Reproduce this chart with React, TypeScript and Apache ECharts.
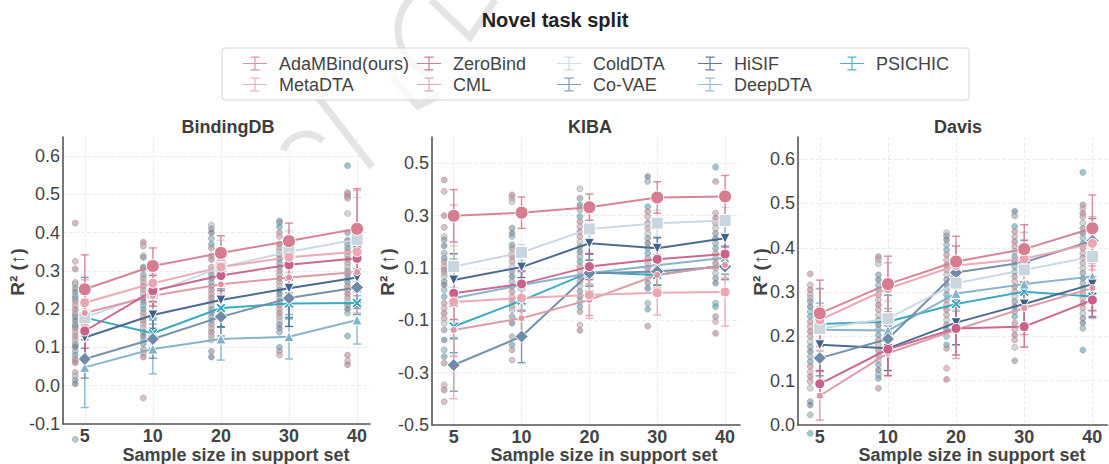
import React, { useEffect, useRef } from 'react';
import * as echarts from 'echarts';

const categories = ['5', '10', '20', '30', '40'];
const methods = ['AdaMBind(ours)', 'MetaDTA', 'ZeroBind', 'CML', 'ColdDTA', 'Co-VAE', 'HiSIF', 'DeepDTA', 'PSICHIC'];
const panelTitles = ['BindingDB', 'KIBA', 'Davis'];

// mean R² per method (rows follow `methods`), columns follow `categories`
const bindingdbMeans = [
  [0.252, 0.313, 0.347, 0.378, 0.410],
  [0.217, 0.268, 0.310, 0.336, 0.350],
  [0.143, 0.248, 0.288, 0.316, 0.333],
  [0.190, 0.235, 0.265, 0.283, 0.297],
  [0.178, 0.242, 0.310, 0.350, 0.382],
  [0.070, 0.122, 0.180, 0.229, 0.257],
  [0.126, 0.185, 0.224, 0.255, 0.283],
  [0.048, 0.096, 0.122, 0.128, 0.172],
  [0.178, 0.137, 0.203, 0.215, 0.216],
];
const bindingdbErrs = [
  [0.090, 0.047, 0.045, 0.047, 0.105],
  [0.060, 0.050, 0.050, 0.050, 0.160],
  [0.045, 0.040, 0.040, 0.040, 0.040],
  [0.050, 0.040, 0.040, 0.040, 0.050],
  [0.050, 0.050, 0.070, 0.055, 0.110],
  [0.050, 0.050, 0.050, 0.050, 0.040],
  [0.050, 0.035, 0.070, 0.100, 0.080],
  [0.105, 0.065, 0.055, 0.058, 0.063],
  [0.105, 0.040, 0.050, 0.040, 0.030],
];
const kibaMeans = [
  [0.299, 0.311, 0.332, 0.369, 0.373],
  [-0.030, -0.015, -0.003, 0.005, 0.008],
  [0.003, 0.039, 0.105, 0.133, 0.153],
  [-0.137, -0.092, -0.022, 0.073, 0.111],
  [0.105, 0.159, 0.249, 0.271, 0.281],
  [-0.271, -0.162, 0.080, 0.086, 0.105],
  [0.054, 0.103, 0.194, 0.175, 0.213],
  [-0.016, 0.035, 0.080, 0.110, 0.139],
  [-0.124, -0.025, 0.083, 0.073, 0.111],
];
const kibaErrs = [
  [0.100, 0.060, 0.050, 0.060, 0.080],
  [0.370, 0.050, 0.090, 0.085, 0.130],
  [0.100, 0.050, 0.050, 0.050, 0.030],
  [0.100, 0.070, 0.060, 0.050, 0.050],
  [0.080, 0.030, 0.060, 0.050, 0.050],
  [0.100, 0.100, 0.050, 0.050, 0.050],
  [0.100, 0.040, 0.040, 0.040, 0.050],
  [0.150, 0.050, 0.050, 0.040, 0.040],
  [0.100, 0.040, 0.070, 0.040, 0.035],
];
const davisMeans = [
  [0.252, 0.318, 0.369, 0.397, 0.444],
  [0.237, 0.308, 0.360, 0.375, 0.410],
  [0.093, 0.171, 0.218, 0.222, 0.282],
  [0.066, 0.162, 0.215, 0.264, 0.309],
  [0.218, 0.240, 0.320, 0.350, 0.380],
  [0.151, 0.194, 0.344, 0.367, 0.416],
  [0.181, 0.173, 0.231, 0.273, 0.318],
  [0.215, 0.213, 0.297, 0.318, 0.335],
  [0.228, 0.233, 0.273, 0.301, 0.290],
];
const davisErrs = [
  [0.075, 0.063, 0.057, 0.055, 0.075],
  [0.070, 0.058, 0.045, 0.060, 0.060],
  [0.030, 0.060, 0.060, 0.046, 0.040],
  [0.055, 0.050, 0.065, 0.060, 0.050],
  [0.050, 0.040, 0.060, 0.050, 0.050],
  [0.040, 0.030, 0.060, 0.050, 0.050],
  [0.060, 0.050, 0.050, 0.050, 0.060],
  [0.060, 0.050, 0.040, 0.050, 0.050],
  [0.080, 0.060, 0.050, 0.040, 0.045],
];

// individual run values (grey dots), one list per category
const bindingdbRuns = [
  [0.425, 0.325, 0.305, 0.27, 0.265, 0.255, 0.245, 0.235, 0.228, 0.22, 0.21, 0.2, 0.19, 0.185, 0.18, 0.17, 0.16, 0.155, 0.15, 0.14, 0.13, 0.12, 0.11, 0.105, 0.1, 0.09, 0.08, 0.07, 0.065, 0.06, 0.035, 0.025, 0.015, 0.005, -0.14],
  [0.375, 0.365, 0.34, 0.335, 0.31, 0.305, 0.29, 0.28, 0.27, 0.26, 0.25, 0.24, 0.23, 0.22, 0.21, 0.2, 0.19, 0.18, 0.17, 0.16, 0.15, 0.14, 0.13, 0.12, 0.11, 0.095, 0.085, 0.075, -0.032],
  [0.42, 0.41, 0.4, 0.385, 0.37, 0.36, 0.34, 0.33, 0.31, 0.3, 0.29, 0.28, 0.27, 0.26, 0.25, 0.24, 0.23, 0.22, 0.21, 0.2, 0.19, 0.18, 0.17, 0.16, 0.15, 0.14, 0.13, 0.12, 0.09, 0.075],
  [0.43, 0.425, 0.415, 0.4, 0.39, 0.37, 0.36, 0.35, 0.34, 0.33, 0.32, 0.31, 0.3, 0.29, 0.28, 0.27, 0.26, 0.25, 0.24, 0.23, 0.22, 0.21, 0.2, 0.19, 0.18, 0.17, 0.16, 0.15, 0.14, 0.1, 0.09, 0.08],
  [0.575, 0.505, 0.5, 0.495, 0.49, 0.45, 0.4, 0.38, 0.37, 0.36, 0.35, 0.34, 0.33, 0.32, 0.31, 0.3, 0.29, 0.28, 0.27, 0.26, 0.25, 0.24, 0.23, 0.22, 0.21, 0.2, 0.19, 0.13, 0.08, 0.065, 0.055],
];
const kibaRuns = [
  [0.436, 0.392, 0.3, 0.255, 0.22, 0.207, 0.184, 0.156, 0.137, 0.124, 0.105, 0.092, 0.08, 0.067, 0.048, 0.035, 0.016, -0.01, -0.035, -0.054, -0.073, -0.092, -0.111, -0.137, -0.175, -0.213, -0.239, -0.264, -0.347, -0.366, -0.411],
  [0.379, 0.366, 0.353, 0.252, 0.232, 0.22, 0.188, 0.175, 0.156, 0.143, 0.124, 0.105, 0.086, 0.067, 0.048, 0.029, 0.01, -0.01, -0.029, -0.048, -0.061, -0.086, -0.111, -0.162, -0.194, -0.213, -0.252],
  [0.402, 0.366, 0.34, 0.322, 0.296, 0.277, 0.258, 0.239, 0.22, 0.2, 0.181, 0.162, 0.143, 0.124, 0.105, 0.086, 0.067, 0.048, 0.029, 0.01, -0.01, -0.029, -0.048, -0.067, -0.118, -0.139],
  [0.449, 0.43, 0.334, 0.315, 0.296, 0.271, 0.252, 0.232, 0.213, 0.194, 0.175, 0.156, 0.137, 0.118, 0.099, 0.08, 0.061, 0.042, 0.022, -0.035, -0.058, -0.122],
  [0.485, 0.43, 0.309, 0.29, 0.271, 0.252, 0.232, 0.213, 0.194, 0.175, 0.156, 0.137, 0.118, 0.099, 0.08, 0.061, 0.042, -0.035, -0.048, -0.086, -0.105, -0.15],
];
const davisRuns = [
  [0.341, 0.316, 0.305, 0.294, 0.286, 0.279, 0.267, 0.256, 0.245, 0.233, 0.222, 0.211, 0.2, 0.188, 0.177, 0.166, 0.154, 0.143, 0.132, 0.12, 0.109, 0.098, 0.083, 0.053, 0.045, 0.023, -0.019],
  [0.38, 0.373, 0.364, 0.339, 0.328, 0.316, 0.305, 0.294, 0.282, 0.271, 0.26, 0.248, 0.237, 0.226, 0.215, 0.203, 0.192, 0.181, 0.169, 0.158, 0.147, 0.136, 0.124, 0.113, 0.105, 0.083],
  [0.434, 0.427, 0.418, 0.407, 0.395, 0.384, 0.373, 0.361, 0.35, 0.339, 0.328, 0.316, 0.305, 0.294, 0.282, 0.271, 0.26, 0.248, 0.237, 0.226, 0.215, 0.2, 0.181, 0.173, 0.128, 0.103],
  [0.482, 0.472, 0.448, 0.437, 0.425, 0.414, 0.403, 0.392, 0.38, 0.369, 0.358, 0.346, 0.335, 0.324, 0.312, 0.301, 0.29, 0.279, 0.267, 0.256, 0.245, 0.23, 0.215, 0.203, 0.192, 0.175, 0.145],
  [0.57, 0.497, 0.489, 0.478, 0.47, 0.456, 0.444, 0.433, 0.422, 0.41, 0.399, 0.388, 0.377, 0.365, 0.354, 0.343, 0.331, 0.32, 0.309, 0.297, 0.286, 0.275, 0.264, 0.252, 0.241, 0.23, 0.218, 0.169],
];

// ---- styling ----
const COLORS = ['#d67d92', '#eaa6b3', '#c8618b', '#dc97a3', '#c9d6e0', '#6f8ba9', '#41638a', '#80b2ca', '#2fa6c0'];
const X_PATH = 'path://M0,1.8L1.8,0L5,3.2L8.2,0L10,1.8L6.8,5L10,8.2L8.2,10L5,6.8L1.8,10L0,8.2L3.2,5Z';
const DOWN_TRI = 'path://M0,0L10,0L5,8.7Z';
const SYMBOLS = ['circle', 'circle', 'circle', 'circle', 'rect', 'diamond', DOWN_TRI, 'triangle', X_PATH];
const SIZES = [13, 10, 10, 7, 12, 13, 10, 10, 10];
const LEGEND_ICON = 'path://M0,6.4h24v1.2h-24z M11.4,0.6h1.2v12.8h-1.2z M7.5,0h9v1.2h-9z M7.5,12.8h9v1.2h-9z';
const FONT = '"Liberation Sans", Arial, Helvetica, sans-serif';
const TXT = '#444444';
const GRIDC = '#ececec';
const X_STEP = 0.04; // fine tick step, x min is a multiple of it
const X_MIN = -0.32;
// vertical grid line only at each category position
const X_SPLIT_COLORS = Array.from({ length: 25 }, (_, k) => (k === 8 ? GRIDC : 'rgba(0,0,0,0)'));

function mixGrey(hex: string, t: number) {
  const n = parseInt(hex.slice(1), 16);
  const r = (n >> 16) & 255, g = (n >> 8) & 255, b = n & 255;
  const gr = 150;
  const f = (c: number) => Math.round(c * (1 - t) + gr * t);
  return `rgb(${f(r)},${f(g)},${f(b)})`;
}
const DOT_COLORS = COLORS.map((c) => mixGrey(c, 0.4));

const panels = [
  { means: bindingdbMeans, errs: bindingdbErrs, runs: bindingdbRuns, grid: { left: 63, top: 137, width: 307, height: 287 }, xMax: 4.19, y: [-0.1, 0.65], mode: 'tenth', titleX: 228, nameX: 236, yNameX: 17 },
  { means: kibaMeans, errs: kibaErrs, runs: kibaRuns, grid: { left: 432, top: 137, width: 308, height: 288 }, xMax: 4.22, y: [-0.5, 0.6], mode: 'odd', titleX: 590, nameX: 604, yNameX: 387 },
  { means: davisMeans, errs: davisErrs, runs: davisRuns, grid: { left: 798, top: 137, width: 310, height: 288 }, xMax: 4.22, y: [0, 0.65], mode: 'tenth', titleX: 958, nameX: 972, yNameX: 760 },
];

function buildOption() {
  const grids: any[] = [];
  const xAxes: any[] = [];
  const yAxes: any[] = [];
  const series: any[] = [];
  const graphics: any[] = [];

  panels.forEach((p, pi) => {
    grids.push({ ...p.grid, containLabel: false });
    xAxes.push({
      gridIndex: pi, type: 'value', min: X_MIN, max: p.xMax, interval: X_STEP,
      axisLine: { show: true, onZero: false, lineStyle: { color: '#555', width: 1.6 } },
      axisTick: { show: false },
      axisLabel: {
        interval: 0, showMinLabel: false, showMaxLabel: false, margin: 3, lineHeight: 18,
        color: TXT, fontSize: 18, fontWeight: 'bold', fontFamily: FONT,
        formatter: (v: number) => {
          const i = Math.round(v);
          return Math.abs(v - i) < 1e-6 && i >= 0 && i < categories.length ? categories[i] : '';
        },
      },
      splitLine: { show: true, interval: 0, lineStyle: { color: X_SPLIT_COLORS, type: 'dashed', width: 1 } },
    });
    yAxes.push({
      gridIndex: pi, type: 'value', min: p.y[0], max: p.y[1], interval: 0.1,
      axisLine: { show: true, onZero: false, lineStyle: { color: '#555', width: 1.6 } },
      axisTick: { show: false },
      axisLabel: {
        showMaxLabel: false, margin: 3, color: TXT, fontSize: 18, fontFamily: FONT,
        formatter: (v: number) => {
          const k = Math.round(v * 100);
          if (k % 10 !== 0) return '';
          const t = Math.round(v * 10);
          if (p.mode === 'odd' && Math.abs(t) % 2 === 0) return '';
          return (t / 10).toFixed(1);
        },
      },
      splitLine: {
        show: true, showMaxLine: false,
        lineStyle: { color: p.mode === 'odd' ? [GRIDC, 'rgba(0,0,0,0)'] : GRIDC, type: 'dashed', width: 1 },
      },
    });

    // grey run dots
    const dots: any[] = [];
    p.runs.forEach((list, ci) => {
      list.forEach((v, k) => {
        dots.push({ value: [ci - 0.14, v], itemStyle: { color: DOT_COLORS[(k + ci * 2) % DOT_COLORS.length] } });
      });
    });
    series.push({
      type: 'scatter', xAxisIndex: pi, yAxisIndex: pi, data: dots, symbolSize: 6, clip: false, z: 1,
      itemStyle: { opacity: 0.6, borderColor: '#8f8f8f', borderWidth: 0.8 },
      silent: true,
    });

    // error bars + lines (reverse so ours is on top)
    for (let m = methods.length - 1; m >= 0; m--) {
      const color = COLORS[m];
      const ebData = p.means[m].map((v, ci) => [ci, v - p.errs[m][ci], v + p.errs[m][ci]]);
      series.push({
        type: 'custom', name: methods[m] + ' error', xAxisIndex: pi, yAxisIndex: pi, z: 2, silent: true,
        data: ebData,
        encode: { x: 0, y: [1, 2] },
        renderItem: (params: any, api: any) => {
          const x = api.value(0);
          const lo = api.coord([x, api.value(1)]);
          const hi = api.coord([x, api.value(2)]);
          const hw = 4;
          const st = { stroke: color, lineWidth: 1.4, opacity: 0.9 };
          return {
            type: 'group',
            children: [
              { type: 'line', shape: { x1: hi[0], y1: hi[1], x2: lo[0], y2: lo[1] }, style: st },
              { type: 'line', shape: { x1: hi[0] - hw, y1: hi[1], x2: hi[0] + hw, y2: hi[1] }, style: st },
              { type: 'line', shape: { x1: lo[0] - hw, y1: lo[1], x2: lo[0] + hw, y2: lo[1] }, style: st },
            ],
          };
        },
      });
    }
    for (let m = methods.length - 1; m >= 0; m--) {
      series.push({
        type: 'line', name: methods[m], xAxisIndex: pi, yAxisIndex: pi, z: 3,
        data: p.means[m].map((v, ci) => [ci, v]),
        symbol: SYMBOLS[m], symbolSize: SIZES[m], showSymbol: true,
        lineStyle: { color: COLORS[m], width: 2, opacity: 0.95 },
        itemStyle: { color: COLORS[m], borderColor: '#ffffff', borderWidth: 1 },
        emphasis: { disabled: true },
      });
    }

    graphics.push({
      type: 'text', x: p.titleX, y: 127, silent: true,
      style: { text: panelTitles[pi], font: `bold 18px ${FONT}`, fill: '#3c3c3c', textAlign: 'center', textVerticalAlign: 'middle', align: 'center', verticalAlign: 'middle' },
    });
    graphics.push({
      type: 'text', x: p.nameX, y: 455, silent: true,
      style: { text: 'Sample size in support set', font: `bold 18px ${FONT}`, fill: TXT, textAlign: 'center', textVerticalAlign: 'middle', align: 'center', verticalAlign: 'middle' },
    });
    graphics.push({
      type: 'text', x: p.yNameX, y: 272, rotation: Math.PI / 2, silent: true,
      style: { text: 'R² (↑)', font: `bold 19px ${FONT}`, fill: TXT, textAlign: 'center', textVerticalAlign: 'middle', align: 'center', verticalAlign: 'middle' },
    });
  });

  // faint watermark strokes
  const wm = { stroke: '#e4e4e4', lineWidth: 7, fill: 'none' };
  graphics.unshift(
    { type: 'arc', z: -10, silent: true, shape: { cx: 444, cy: 30, r: 46, startAngle: Math.PI * 0.6, endAngle: Math.PI * 1.45 }, style: wm },
    { type: 'polyline', z: -10, silent: true, shape: { points: [[431, 0], [470, 37], [495, 0]] }, style: wm },
    { type: 'line', z: -10, silent: true, shape: { x1: 318, y1: 97, x2: 372, y2: 167 }, style: wm },
    { type: 'polyline', z: -10, silent: true, shape: { points: [[392, 77], [418, 106], [440, 95]] }, style: wm },
    { type: 'arc', z: -10, silent: true, shape: { cx: 306, cy: 158, r: 24, startAngle: Math.PI * 1.1, endAngle: Math.PI * 1.75 }, style: wm },
  );

  graphics.push({
    type: 'rect', z: -5, silent: true,
    shape: { x: 222, y: 48, width: 747, height: 52, r: 3 },
    style: { fill: 'rgba(255,255,255,0.75)', stroke: '#d4d4d4', lineWidth: 1 },
  });
  graphics.push({
    type: 'text', x: 555, y: 20, silent: true,
    style: { text: 'Novel task split', font: `bold 20px ${FONT}`, fill: '#222', textAlign: 'center', textVerticalAlign: 'middle', align: 'center', verticalAlign: 'middle' },
  });

  const legendCols = [[0, 1], [2, 3], [4, 5], [6, 7], [8]];
  const legendLefts = [243, 417, 557, 698, 840];
  const legends = legendCols.map((col, i) => ({
    orient: 'vertical', left: legendLefts[i], top: 53, padding: 0, itemGap: 0,
    itemWidth: 24, itemHeight: 14, icon: LEGEND_ICON, selectedMode: false,
    itemStyle: { borderWidth: 0, opacity: 0.85 },
    textStyle: { color: TXT, fontSize: 18, fontFamily: FONT, lineHeight: 21, padding: [0, 0, 0, 7] },
    data: col.map((m) => methods[m]),
  }));

  return {
    animation: false,
    backgroundColor: '#ffffff',
    textStyle: { fontFamily: FONT },
    grid: grids,
    xAxis: xAxes,
    yAxis: yAxes,
    legend: legends,
    graphic: graphics,
    series,
  };
}

export default function App() {
  const ref = useRef<HTMLDivElement>(null);
  useEffect(() => {
    if (!ref.current) return;
    const chart = echarts.init(ref.current, null, { renderer: 'svg' });
    chart.setOption(buildOption() as any);
    return () => chart.dispose();
  }, []);
  return <div ref={ref} style={{ position: 'fixed', left: 0, top: 0, width: 1109, height: 464, background: '#fff' }} />;
}
